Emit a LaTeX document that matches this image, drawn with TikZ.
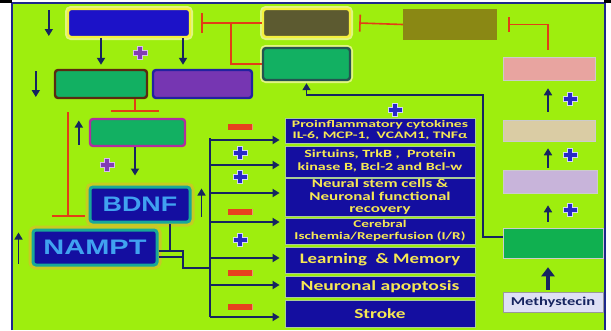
\documentclass[tikz,border=0pt]{standalone}
\usepackage{fontspec}
\setmainfont{Carlito}
\newfontfamily\libsans{Liberation Sans}
\usetikzlibrary{arrows.meta,calc}
\definecolor{limebg}{RGB}{158,238,14}
\definecolor{framecol}{RGB}{30,40,140}
\definecolor{navyarr}{RGB}{22,36,96}
\definecolor{redinh}{RGB}{226,62,22}
\definecolor{boxblue}{RGB}{20,14,160}
\definecolor{topblue}{RGB}{28,18,200}
\definecolor{txtyel}{RGB}{246,232,84}
\definecolor{yelbord}{RGB}{244,240,60}
\definecolor{greenbox}{RGB}{18,176,98}
\definecolor{purplebox}{RGB}{118,54,178}
\definecolor{darkolive}{RGB}{92,90,48}
\definecolor{olivebox}{RGB}{138,136,20}
\definecolor{pinkbox}{RGB}{232,164,160}
\definecolor{tanbox}{RGB}{218,204,164}
\definecolor{lavbox}{RGB}{200,180,218}
\definecolor{rgreen}{RGB}{16,176,80}
\definecolor{methy}{RGB}{222,224,245}
\definecolor{sepcol}{RGB}{170,205,150}
\definecolor{teal}{RGB}{24,168,152}
\definecolor{bdnftxt}{RGB}{64,162,240}
\definecolor{plusblue}{RGB}{40,40,200}
\definecolor{plusedge}{RGB}{210,215,245}
\definecolor{pluspurp}{RGB}{130,60,180}
\definecolor{purpedge}{RGB}{215,190,235}
\definecolor{minusred}{RGB}{232,66,30}
\definecolor{glowy}{RGB}{225,245,130}
\definecolor{gloworange}{RGB}{225,180,50}
\newcommand{\hs}[2][1.42]{\scalebox{#1}[1]{#2}}
\tikzset{
  bplus/.pic={\draw[line width=6pt, plusedge] (-7.5,0)--(7.5,0) (0,-7)--(0,7);
              \draw[line width=3.8pt, plusblue] (-6.5,0)--(6.5,0) (0,-6)--(0,6);},
  pplus/.pic={\draw[line width=6pt, purpedge] (-7.5,0)--(7.5,0) (0,-7)--(0,7);
              \draw[line width=3.8pt, pluspurp] (-6.5,0)--(6.5,0) (0,-6)--(0,6);},
  rminus/.pic={\fill[minusred!60!white] (-12.5,-3.3) rectangle (12.5,3.3);
               \fill[minusred] (-12,-2.8) rectangle (12,2.8);}
}
\begin{document}
\begin{tikzpicture}[x=1pt,y=-1pt,
  bx/.style={rounded corners=3pt, inner sep=0pt, line width=2.4pt},
  obox/.style={fill=boxblue, draw=sepcol, line width=0.8pt, minimum width=190pt, inner sep=0pt, text=txtyel, font=\bfseries},
  rbox/.style={inner sep=0pt, draw=black!20, line width=0.5pt},
  arr/.style={draw=navyarr, line width=1.8pt, -{Triangle[length=7pt,width=8pt]}},
  iarr/.style={draw=navyarr, line width=1.6pt, -{Triangle[length=7pt,width=8pt]}},
  bigarr/.style={draw=navyarr, line width=3.5pt, -{Triangle[length=9pt,width=13pt]}},
  nline/.style={draw=navyarr, line width=1.8pt},
  inh/.style={draw=redinh, line width=1.6pt, -{Bar[width=#1]}},
  rline/.style={draw=redinh, line width=1.6pt},
]
\useasboundingbox (0,0) rectangle (611,330);
% background
\fill[white] (0,0) rectangle (611,330);
\fill[limebg] (12,3) rectangle (605,330);
\draw[framecol, line width=2pt] (12,330) -- (12,3) -- (605,3) -- (605,330);
\fill[black] (0,0) rectangle (12,3);
\fill[black] (604,0) rectangle (611,3);

% top-left boxes
\node[bx, fill=topblue, draw=yelbord, minimum width=122pt, minimum height=28pt,
      preaction={draw=glowy, line width=6pt}] (A) at (129,23) {};
\node[bx, fill=darkolive, draw=yelbord, minimum width=87pt, minimum height=28pt,
      preaction={draw=glowy, line width=6pt}] (B) at (306.5,23) {};
\node[inner sep=0pt, fill=olivebox, minimum width=94pt, minimum height=31pt] (C) at (450,24.5) {};
\node[bx, fill=greenbox, draw={rgb,255:red,36;green,84;blue,80}, minimum width=87pt, minimum height=32pt,
      preaction={draw=glowy, line width=6pt}] (D) at (306.5,64) {};
\node[bx, fill=greenbox, draw={rgb,255:red,90;green,42;blue,16}, minimum width=92pt, minimum height=28pt] (E) at (101,84) {};
\node[bx, fill=purplebox, draw={rgb,255:red,34;green,34;blue,160}, minimum width=99pt, minimum height=28pt] (F) at (202.5,84) {};
\node[bx, fill=greenbox, draw={rgb,255:red,176;green,46;blue,160}, minimum width=95pt, minimum height=27pt] (G) at (137.5,132.5) {};
\node[bx, fill=boxblue, draw=teal, line width=3pt, minimum width=100pt, minimum height=35pt,
      preaction={draw=gloworange, line width=9pt, opacity=0.6},
      text=bdnftxt, font=\libsans\bfseries\fontsize{21}{21}\selectfont] (BDNF) at (140,204.5) {\hs[1.28]{BDNF}};
\node[bx, fill=boxblue, draw=teal, line width=3pt, minimum width=124pt, minimum height=35pt,
      preaction={draw=gloworange, line width=9pt, opacity=0.6},
      text=bdnftxt, font=\libsans\bfseries\fontsize{21}{21}\selectfont] (NAMPT) at (95,247.5) {\hs[1.38]{NAMPT}};

% right column
\node[rbox, fill=pinkbox, minimum width=92pt, minimum height=23pt] (P) at (549,68.5) {};
\node[rbox, fill=tanbox, minimum width=92pt, minimum height=21pt] (T) at (549,130.5) {};
\node[rbox, fill=lavbox, minimum width=94pt, minimum height=23pt] (L) at (550,181.5) {};
\node[rbox, fill=rgreen, minimum width=100pt, minimum height=30pt] (R) at (553,243) {};
\node[inner sep=0pt, fill=methy, draw=black!40, line width=0.8pt, minimum width=100pt, minimum height=20pt,
      text=navyarr, font=\bfseries\fontsize{12}{12}\selectfont] (M) at (553,302) {\hs[1.37]{Methystecin}};

% outcome boxes
\node[obox, minimum height=25pt, font=\bfseries\fontsize{10}{11.5}\selectfont] (o1) at (380,130.5)
  {\hs[1.57]{\begin{tabular}{@{}c@{}}Proinflammatory cytokines\\IL-6, MCP-1,\ \ VCAM1, TNFα\end{tabular}}};
\node[obox, minimum height=31pt, font=\bfseries\fontsize{11}{13}\selectfont] (o2) at (380,161.5)
  {\hs[1.46]{\begin{tabular}{@{}c@{}}Sirtuins, TrkB ,\ \ Protein\\kinase B, Bcl-2 and Bcl-w\end{tabular}}};
\node[obox, minimum height=37pt, font=\bfseries\fontsize{12}{12.5}\selectfont] (o3) at (380,197.5)
  {\hs{\begin{tabular}{@{}c@{}}Neural stem cells \&\\Neuronal functional\\recovery\end{tabular}}};
\node[obox, minimum height=26pt, font=\bfseries\fontsize{10.5}{12.5}\selectfont] (o4) at (380,231)
  {\hs[1.45]{\begin{tabular}{@{}c@{}}Cerebral\\Ischemia/Reperfusion (I/R)\end{tabular}}};
\node[obox, minimum height=26pt, font=\bfseries\fontsize{14.5}{15}\selectfont] (o5) at (380,260)
  {\hs[1.3]{Learning\ \ \& Memory}};
\node[obox, minimum height=21pt, font=\bfseries\fontsize{14}{15}\selectfont] (o6) at (380,286.5)
  {\hs[1.4]{Neuronal apoptosis}};
\node[obox, minimum height=27pt, font=\bfseries\fontsize{14}{15}\selectfont] (o7) at (380,313.5)
  {\hs[1.38]{Stroke}};

% A -> E, A -> F
\draw[arr, shorten >=4pt] (A.south -| E.north) -- (E.north);
\draw[arr, shorten >=4pt] ([xshift=-19.5pt]F.north |- A.south) -- ([xshift=-19.5pt]F.north);

% inhibitions
\draw[inh=20pt] (B.west) -- ([xshift=10pt]A.east);
\coordinate (J) at ($(A.east)+(40,0)$);
\draw[rline] (D.west) -| (J);
\draw[inh=17pt] (C.west) -- ([xshift=8pt]B.east);
\draw[inh=15pt, shorten <=7pt] ([xshift=-1pt]P.north) |- ([xshift=11pt]C.east);
\draw[inh=48pt] ([xshift=-2.5pt]G.north |- E.south) -- ([xshift=-2.5pt,yshift=6pt]G.north);
\coordinate (rt) at (68,112);
\draw[inh=33pt, shorten >=12pt] (rt) -- (rt |- NAMPT.north);

% G -> BDNF
\draw[arr, shorten >=10pt] ([xshift=-2.5pt]G.south) -- ([xshift=-2.5pt]G.south |- BDNF.north);

% BDNF, NAMPT -> trunk
\coordinate (k1) at (183,251);
\coordinate (k2) at (210,268);
\coordinate (t0) at (210,138);
\coordinate (t7) at (210,317);
\draw[nline] ([xshift=30pt]BDNF.south) -- ([xshift=30pt]BDNF.south |- k1);
\draw[nline] (NAMPT.east |- k1) -- (k1) |- (k2);
\draw[nline] ([yshift=-6pt]NAMPT.east |- k1) -- ([yshift=-6pt]k1);
\draw[nline] (t0) -- (t7);
\coordinate (a1) at (210,140);
\coordinate (a2) at (210,165);
\coordinate (a3) at (210,193);
\coordinate (a4) at (210,222);
\coordinate (a5) at (210,258);
\coordinate (a6) at (210,285);
\coordinate (a7) at (210,317);
\foreach \i in {1,...,7}{
  \draw[arr, shorten >=5pt] (a\i) -- (a\i -| o\i.west);
}

% right column arrows
\draw[iarr, shorten <=8pt, shorten >=8pt] ([xshift=-1pt]T.north) -- ([xshift=-1pt]T.north |- P.south);
\draw[iarr, shorten <=2pt, shorten >=7pt] ([xshift=-2pt]L.north) -- ([xshift=-2pt]L.north |- T.south);
\draw[iarr, shorten <=6pt, shorten >=12pt] ([xshift=-5pt]R.north) -- ([xshift=-5pt]R.north |- L.south);
\draw[bigarr, shorten <=2pt, shorten >=9pt] ([xshift=-5pt]M.north) -- ([xshift=-5pt]M.north |- R.south);

% R -> D
\coordinate (bend) at (483,95);
\draw[arr, line width=1.6pt, shorten >=2pt] ([yshift=6pt]R.west) -| (bend) -| (D.south);

% indicator arrows
\draw[iarr] ($(A.west)+(-18,-13)$) -- ($(A.west)+(-18,13)$);
\draw[iarr] ($(E.west)+(-18,-13)$) -- ($(E.west)+(-18,13)$);
\draw[iarr] ($(G.west)+(-10,12)$) -- ($(G.west)+(-10,-12)$);
\draw[iarr] ($(BDNF.east)+(10,12)$) -- ($(BDNF.east)+(10,-16)$);
\draw[iarr] ($(NAMPT.west)+(-13,16)$) -- ($(NAMPT.west)+(-13,-15)$);

% signs
\foreach \y in {127,212,273,307} { \pic at (240,\y) {rminus}; }
\foreach \y in {153,177,240} { \pic at (240,\y) {bplus}; }
\pic at (395,110) {bplus};
\foreach \y in {99,155,210} { \pic at (570,\y) {bplus}; }
\pic at (140,53) {pplus};
\pic at (107,165) {pplus};
\end{tikzpicture}
\end{document}
